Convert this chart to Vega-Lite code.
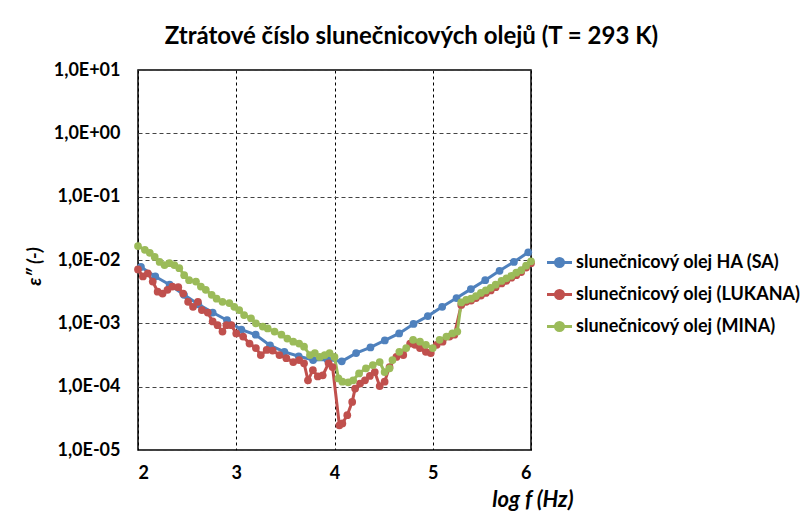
{
  "$schema": "https://vega.github.io/schema/vega-lite/v6.json",
  "width": 393,
  "height": 380,
  "autosize": {"type": "none"},
  "padding": {"left": 138, "top": 70, "right": 271, "bottom": 71},
  "background": "white",
  "title": {"text": "Ztrátové číslo slunečnicových olejů (T = 293 K)", "font": "Lato", "fontSize": 24, "fontWeight": "bold", "color": "black", "anchor": "middle", "dx": 77, "offset": 12},
  "config": {"view": {"stroke": "black", "strokeWidth": 1.5}},
  "datasets": {
    "d": [
      {"olej": "slunečnicový olej HA (SA)", "logf": 2.03, "eps": 0.00776},
      {"olej": "slunečnicový olej HA (SA)", "logf": 2.176, "eps": 0.0055},
      {"olej": "slunečnicový olej HA (SA)", "logf": 2.322, "eps": 0.00407},
      {"olej": "slunečnicový olej HA (SA)", "logf": 2.468, "eps": 0.00282},
      {"olej": "slunečnicový olej HA (SA)", "logf": 2.614, "eps": 0.002},
      {"olej": "slunečnicový olej HA (SA)", "logf": 2.76, "eps": 0.00148},
      {"olej": "slunečnicový olej HA (SA)", "logf": 2.906, "eps": 0.00112},
      {"olej": "slunečnicový olej HA (SA)", "logf": 3.052, "eps": 0.000794},
      {"olej": "slunečnicový olej HA (SA)", "logf": 3.198, "eps": 0.000661},
      {"olej": "slunečnicový olej HA (SA)", "logf": 3.344, "eps": 0.000447},
      {"olej": "slunečnicový olej HA (SA)", "logf": 3.49, "eps": 0.000355},
      {"olej": "slunečnicový olej HA (SA)", "logf": 3.636, "eps": 0.000302},
      {"olej": "slunečnicový olej HA (SA)", "logf": 3.782, "eps": 0.000263},
      {"olej": "slunečnicový olej HA (SA)", "logf": 3.928, "eps": 0.000269},
      {"olej": "slunečnicový olej HA (SA)", "logf": 4.074, "eps": 0.000251},
      {"olej": "slunečnicový olej HA (SA)", "logf": 4.22, "eps": 0.000339},
      {"olej": "slunečnicový olej HA (SA)", "logf": 4.366, "eps": 0.000417},
      {"olej": "slunečnicový olej HA (SA)", "logf": 4.512, "eps": 0.000537},
      {"olej": "slunečnicový olej HA (SA)", "logf": 4.658, "eps": 0.000692},
      {"olej": "slunečnicový olej HA (SA)", "logf": 4.804, "eps": 0.000977},
      {"olej": "slunečnicový olej HA (SA)", "logf": 4.95, "eps": 0.0013},
      {"olej": "slunečnicový olej HA (SA)", "logf": 5.096, "eps": 0.00182},
      {"olej": "slunečnicový olej HA (SA)", "logf": 5.242, "eps": 0.00251},
      {"olej": "slunečnicový olej HA (SA)", "logf": 5.388, "eps": 0.00347},
      {"olej": "slunečnicový olej HA (SA)", "logf": 5.534, "eps": 0.00479},
      {"olej": "slunečnicový olej HA (SA)", "logf": 5.68, "eps": 0.00676},
      {"olej": "slunečnicový olej HA (SA)", "logf": 5.826, "eps": 0.00933},
      {"olej": "slunečnicový olej HA (SA)", "logf": 5.972, "eps": 0.0132},
      {"olej": "slunečnicový olej (LUKANA)", "logf": 2.0, "eps": 0.00708},
      {"olej": "slunečnicový olej (LUKANA)", "logf": 2.05, "eps": 0.0055},
      {"olej": "slunečnicový olej (LUKANA)", "logf": 2.1, "eps": 0.00617},
      {"olej": "slunečnicový olej (LUKANA)", "logf": 2.15, "eps": 0.00457},
      {"olej": "slunečnicový olej (LUKANA)", "logf": 2.2, "eps": 0.00316},
      {"olej": "slunečnicový olej (LUKANA)", "logf": 2.25, "eps": 0.00295},
      {"olej": "slunečnicový olej (LUKANA)", "logf": 2.3, "eps": 0.00339},
      {"olej": "slunečnicový olej (LUKANA)", "logf": 2.35, "eps": 0.0038},
      {"olej": "slunečnicový olej (LUKANA)", "logf": 2.41, "eps": 0.00372},
      {"olej": "slunečnicový olej (LUKANA)", "logf": 2.46, "eps": 0.00295},
      {"olej": "slunečnicový olej (LUKANA)", "logf": 2.51, "eps": 0.00219},
      {"olej": "slunečnicový olej (LUKANA)", "logf": 2.56, "eps": 0.00182},
      {"olej": "slunečnicový olej (LUKANA)", "logf": 2.61, "eps": 0.00219},
      {"olej": "slunečnicový olej (LUKANA)", "logf": 2.65, "eps": 0.00162},
      {"olej": "slunečnicový olej (LUKANA)", "logf": 2.71, "eps": 0.00148},
      {"olej": "slunečnicový olej (LUKANA)", "logf": 2.76, "eps": 0.00107},
      {"olej": "slunečnicový olej (LUKANA)", "logf": 2.81, "eps": 0.000933},
      {"olej": "slunečnicový olej (LUKANA)", "logf": 2.86, "eps": 0.000741},
      {"olej": "slunečnicový olej (LUKANA)", "logf": 2.9, "eps": 0.000933},
      {"olej": "slunečnicový olej (LUKANA)", "logf": 2.95, "eps": 0.000933},
      {"olej": "slunečnicový olej (LUKANA)", "logf": 3.0, "eps": 0.000692},
      {"olej": "slunečnicový olej (LUKANA)", "logf": 3.07, "eps": 0.000617},
      {"olej": "slunečnicový olej (LUKANA)", "logf": 3.135, "eps": 0.000479},
      {"olej": "slunečnicový olej (LUKANA)", "logf": 3.2, "eps": 0.000407},
      {"olej": "slunečnicový olej (LUKANA)", "logf": 3.25, "eps": 0.000316},
      {"olej": "slunečnicový olej (LUKANA)", "logf": 3.31, "eps": 0.00038},
      {"olej": "slunečnicový olej (LUKANA)", "logf": 3.37, "eps": 0.000372},
      {"olej": "slunečnicový olej (LUKANA)", "logf": 3.44, "eps": 0.000316},
      {"olej": "slunečnicový olej (LUKANA)", "logf": 3.51, "eps": 0.000282},
      {"olej": "slunečnicový olej (LUKANA)", "logf": 3.58, "eps": 0.000245},
      {"olej": "slunečnicový olej (LUKANA)", "logf": 3.64, "eps": 0.000263},
      {"olej": "slunečnicový olej (LUKANA)", "logf": 3.69, "eps": 0.000234},
      {"olej": "slunečnicový olej (LUKANA)", "logf": 3.73, "eps": 0.000126},
      {"olej": "slunečnicový olej (LUKANA)", "logf": 3.78, "eps": 0.000182},
      {"olej": "slunečnicový olej (LUKANA)", "logf": 3.83, "eps": 0.000145},
      {"olej": "slunečnicový olej (LUKANA)", "logf": 3.88, "eps": 0.000151},
      {"olej": "slunečnicový olej (LUKANA)", "logf": 3.94, "eps": 0.000234},
      {"olej": "slunečnicový olej (LUKANA)", "logf": 3.98, "eps": 0.000204},
      {"olej": "slunečnicový olej (LUKANA)", "logf": 4.05, "eps": 0.0000245},
      {"olej": "slunečnicový olej (LUKANA)", "logf": 4.08, "eps": 0.0000263},
      {"olej": "slunečnicový olej (LUKANA)", "logf": 4.13, "eps": 0.0000355},
      {"olej": "slunečnicový olej (LUKANA)", "logf": 4.18, "eps": 0.0000575},
      {"olej": "slunečnicový olej (LUKANA)", "logf": 4.21, "eps": 0.0000933},
      {"olej": "slunečnicový olej (LUKANA)", "logf": 4.26, "eps": 0.000112},
      {"olej": "slunečnicový olej (LUKANA)", "logf": 4.31, "eps": 0.000126},
      {"olej": "slunečnicový olej (LUKANA)", "logf": 4.36, "eps": 0.000148},
      {"olej": "slunečnicový olej (LUKANA)", "logf": 4.41, "eps": 0.00017},
      {"olej": "slunečnicový olej (LUKANA)", "logf": 4.46, "eps": 0.000102},
      {"olej": "slunečnicový olej (LUKANA)", "logf": 4.51, "eps": 0.00012},
      {"olej": "slunečnicový olej (LUKANA)", "logf": 4.56, "eps": 0.000204},
      {"olej": "slunečnicový olej (LUKANA)", "logf": 4.63, "eps": 0.000295},
      {"olej": "slunečnicový olej (LUKANA)", "logf": 4.7, "eps": 0.000316},
      {"olej": "slunečnicový olej (LUKANA)", "logf": 4.77, "eps": 0.000479},
      {"olej": "slunečnicový olej (LUKANA)", "logf": 4.82, "eps": 0.000457},
      {"olej": "slunečnicový olej (LUKANA)", "logf": 4.87, "eps": 0.000407},
      {"olej": "slunečnicový olej (LUKANA)", "logf": 4.93, "eps": 0.000355},
      {"olej": "slunečnicový olej (LUKANA)", "logf": 4.98, "eps": 0.000339},
      {"olej": "slunečnicový olej (LUKANA)", "logf": 5.04, "eps": 0.000457},
      {"olej": "slunečnicový olej (LUKANA)", "logf": 5.1, "eps": 0.000513},
      {"olej": "slunečnicový olej (LUKANA)", "logf": 5.17, "eps": 0.000617},
      {"olej": "slunečnicový olej (LUKANA)", "logf": 5.22, "eps": 0.000661},
      {"olej": "slunečnicový olej (LUKANA)", "logf": 5.29, "eps": 0.00195},
      {"olej": "slunečnicový olej (LUKANA)", "logf": 5.34, "eps": 0.00219},
      {"olej": "slunečnicový olej (LUKANA)", "logf": 5.39, "eps": 0.00229},
      {"olej": "slunečnicový olej (LUKANA)", "logf": 5.44, "eps": 0.00251},
      {"olej": "slunečnicový olej (LUKANA)", "logf": 5.49, "eps": 0.00275},
      {"olej": "slunečnicový olej (LUKANA)", "logf": 5.54, "eps": 0.00302},
      {"olej": "slunečnicový olej (LUKANA)", "logf": 5.59, "eps": 0.00331},
      {"olej": "slunečnicový olej (LUKANA)", "logf": 5.64, "eps": 0.00372},
      {"olej": "slunečnicový olej (LUKANA)", "logf": 5.7, "eps": 0.00427},
      {"olej": "slunečnicový olej (LUKANA)", "logf": 5.75, "eps": 0.00468},
      {"olej": "slunečnicový olej (LUKANA)", "logf": 5.8, "eps": 0.00525},
      {"olej": "slunečnicový olej (LUKANA)", "logf": 5.85, "eps": 0.00575},
      {"olej": "slunečnicový olej (LUKANA)", "logf": 5.9, "eps": 0.00646},
      {"olej": "slunečnicový olej (LUKANA)", "logf": 5.95, "eps": 0.00759},
      {"olej": "slunečnicový olej (LUKANA)", "logf": 6.0, "eps": 0.00891},
      {"olej": "slunečnicový olej (MINA)", "logf": 2.0, "eps": 0.0166},
      {"olej": "slunečnicový olej (MINA)", "logf": 2.07, "eps": 0.0145},
      {"olej": "slunečnicový olej (MINA)", "logf": 2.12, "eps": 0.013},
      {"olej": "slunečnicový olej (MINA)", "logf": 2.17, "eps": 0.0112},
      {"olej": "slunečnicový olej (MINA)", "logf": 2.22, "eps": 0.00933},
      {"olej": "slunečnicový olej (MINA)", "logf": 2.27, "eps": 0.00832},
      {"olej": "slunečnicový olej (MINA)", "logf": 2.32, "eps": 0.00891},
      {"olej": "slunečnicový olej (MINA)", "logf": 2.37, "eps": 0.00832},
      {"olej": "slunečnicový olej (MINA)", "logf": 2.42, "eps": 0.00741},
      {"olej": "slunečnicový olej (MINA)", "logf": 2.47, "eps": 0.00575},
      {"olej": "slunečnicový olej (MINA)", "logf": 2.52, "eps": 0.00479},
      {"olej": "slunečnicový olej (MINA)", "logf": 2.59, "eps": 0.00457},
      {"olej": "slunečnicový olej (MINA)", "logf": 2.64, "eps": 0.0038},
      {"olej": "slunečnicový olej (MINA)", "logf": 2.69, "eps": 0.00339},
      {"olej": "slunečnicový olej (MINA)", "logf": 2.75, "eps": 0.00282},
      {"olej": "slunečnicový olej (MINA)", "logf": 2.8, "eps": 0.00245},
      {"olej": "slunečnicový olej (MINA)", "logf": 2.86, "eps": 0.00219},
      {"olej": "slunečnicový olej (MINA)", "logf": 2.93, "eps": 0.00209},
      {"olej": "slunečnicový olej (MINA)", "logf": 2.98, "eps": 0.00182},
      {"olej": "slunečnicový olej (MINA)", "logf": 3.03, "eps": 0.00162},
      {"olej": "slunečnicový olej (MINA)", "logf": 3.08, "eps": 0.00135},
      {"olej": "slunečnicový olej (MINA)", "logf": 3.15, "eps": 0.0012},
      {"olej": "slunečnicový olej (MINA)", "logf": 3.2, "eps": 0.001},
      {"olej": "slunečnicový olej (MINA)", "logf": 3.27, "eps": 0.000891},
      {"olej": "slunečnicový olej (MINA)", "logf": 3.32, "eps": 0.000832},
      {"olej": "slunečnicový olej (MINA)", "logf": 3.39, "eps": 0.000741},
      {"olej": "slunečnicový olej (MINA)", "logf": 3.46, "eps": 0.000661},
      {"olej": "slunečnicový olej (MINA)", "logf": 3.52, "eps": 0.000575},
      {"olej": "slunečnicový olej (MINA)", "logf": 3.58, "eps": 0.000513},
      {"olej": "slunečnicový olej (MINA)", "logf": 3.64, "eps": 0.000479},
      {"olej": "slunečnicový olej (MINA)", "logf": 3.69, "eps": 0.000427},
      {"olej": "slunečnicový olej (MINA)", "logf": 3.75, "eps": 0.000316},
      {"olej": "slunečnicový olej (MINA)", "logf": 3.8, "eps": 0.000339},
      {"olej": "slunečnicový olej (MINA)", "logf": 3.85, "eps": 0.000295},
      {"olej": "slunečnicový olej (MINA)", "logf": 3.9, "eps": 0.000316},
      {"olej": "slunečnicový olej (MINA)", "logf": 3.95, "eps": 0.000339},
      {"olej": "slunečnicový olej (MINA)", "logf": 4.0, "eps": 0.000295},
      {"olej": "slunečnicový olej (MINA)", "logf": 4.04, "eps": 0.000135},
      {"olej": "slunečnicový olej (MINA)", "logf": 4.08, "eps": 0.00012},
      {"olej": "slunečnicový olej (MINA)", "logf": 4.14, "eps": 0.000117},
      {"olej": "slunečnicový olej (MINA)", "logf": 4.19, "eps": 0.000126},
      {"olej": "slunečnicový olej (MINA)", "logf": 4.25, "eps": 0.000162},
      {"olej": "slunečnicový olej (MINA)", "logf": 4.32, "eps": 0.000195},
      {"olej": "slunečnicový olej (MINA)", "logf": 4.39, "eps": 0.000219},
      {"olej": "slunečnicový olej (MINA)", "logf": 4.46, "eps": 0.000245},
      {"olej": "slunečnicový olej (MINA)", "logf": 4.51, "eps": 0.00017},
      {"olej": "slunečnicový olej (MINA)", "logf": 4.56, "eps": 0.000195},
      {"olej": "slunečnicový olej (MINA)", "logf": 4.59, "eps": 0.000263},
      {"olej": "slunečnicový olej (MINA)", "logf": 4.66, "eps": 0.000355},
      {"olej": "slunečnicový olej (MINA)", "logf": 4.73, "eps": 0.000407},
      {"olej": "slunečnicový olej (MINA)", "logf": 4.8, "eps": 0.00055},
      {"olej": "slunečnicový olej (MINA)", "logf": 4.87, "eps": 0.000513},
      {"olej": "slunečnicový olej (MINA)", "logf": 4.93, "eps": 0.000457},
      {"olej": "slunečnicový olej (MINA)", "logf": 5.0, "eps": 0.000407},
      {"olej": "slunečnicový olej (MINA)", "logf": 5.07, "eps": 0.00055},
      {"olej": "slunečnicový olej (MINA)", "logf": 5.14, "eps": 0.000617},
      {"olej": "slunečnicový olej (MINA)", "logf": 5.2, "eps": 0.000692},
      {"olej": "slunečnicový olej (MINA)", "logf": 5.25, "eps": 0.000741},
      {"olej": "slunečnicový olej (MINA)", "logf": 5.29, "eps": 0.00214},
      {"olej": "slunečnicový olej (MINA)", "logf": 5.34, "eps": 0.00234},
      {"olej": "slunečnicový olej (MINA)", "logf": 5.39, "eps": 0.00245},
      {"olej": "slunečnicový olej (MINA)", "logf": 5.44, "eps": 0.00269},
      {"olej": "slunečnicový olej (MINA)", "logf": 5.49, "eps": 0.00302},
      {"olej": "slunečnicový olej (MINA)", "logf": 5.54, "eps": 0.00331},
      {"olej": "slunečnicový olej (MINA)", "logf": 5.59, "eps": 0.00363},
      {"olej": "slunečnicový olej (MINA)", "logf": 5.64, "eps": 0.00407},
      {"olej": "slunečnicový olej (MINA)", "logf": 5.7, "eps": 0.00468},
      {"olej": "slunečnicový olej (MINA)", "logf": 5.75, "eps": 0.00513},
      {"olej": "slunečnicový olej (MINA)", "logf": 5.8, "eps": 0.00562},
      {"olej": "slunečnicový olej (MINA)", "logf": 5.85, "eps": 0.00631},
      {"olej": "slunečnicový olej (MINA)", "logf": 5.9, "eps": 0.00692},
      {"olej": "slunečnicový olej (MINA)", "logf": 5.95, "eps": 0.00813},
      {"olej": "slunečnicový olej (MINA)", "logf": 6.0, "eps": 0.00955}
    ]
  },
  "data": {"name": "d"},
  "encoding": {
    "x": {
      "field": "logf", "type": "quantitative",
      "scale": {"domain": [2, 6], "nice": false, "zero": false},
      "axis": {
        "values": [2, 3, 4, 5, 6], "format": "d",
        "grid": true, "gridColor": "black", "gridDash": [3, 3], "gridWidth": 1,
        "domain": false, "ticks": false,
        "labelFont": "Lato", "labelFontSize": 18, "labelFontWeight": "bold", "labelColor": "black", "labelPadding": 14,
        "title": "log f (Hz)", "titleFont": "Lato", "titleFontSize": 22, "titleFontWeight": "bold", "titleFontStyle": "italic", "titleColor": "black",
        "titleX": 435, "titleY": 49, "titleAlign": "right", "titleBaseline": "middle", "titleAnchor": null
      }
    },
    "y": {
      "field": "eps", "type": "quantitative",
      "scale": {"type": "log", "domain": [0.00001, 10], "nice": false},
      "axis": {
        "values": [0.00001, 0.0001, 0.001, 0.01, 0.1, 1, 10],
        "labelExpr": "'1,0E' + (datum.value >= 1 ? '+' : '-') + format(abs(round(log(datum.value)/LN10)), '02d')",
        "grid": true, "gridColor": "#444", "gridDash": [4, 3], "gridWidth": 1,
        "domain": false, "ticks": false,
        "labelFont": "Lato", "labelFontSize": 18, "labelFontWeight": "bold", "labelColor": "black", "labelPadding": 18,
        "title": "ε″ (-)", "titleFont": "Lato", "titleFontSize": 19, "titleFontWeight": "bold", "titleFontStyle": "italic", "titleColor": "black",
        "titleX": -104, "titleY": 196, "titleAlign": "center", "titleBaseline": "middle", "titleAngle": -90
      }
    },
    "color": {
      "field": "olej", "type": "nominal",
      "scale": {
        "domain": ["slunečnicový olej HA (SA)", "slunečnicový olej (LUKANA)", "slunečnicový olej (MINA)"],
        "range": ["#4F81BD", "#C0504D", "#9BBB59"]
      },
      "legend": {
        "orient": "none", "legendX": 410, "legendY": 181, "title": null, "padding": 0,
        "labelFont": "Lato", "labelFontSize": 18, "labelFontWeight": "bold", "labelColor": "black", "labelLimit": 400,
        "symbolType": "M -1.25 0 L 1.25 0 M 0.4 0 A 0.4 0.4 0 1 1 -0.4 0 A 0.4 0.4 0 1 1 0.4 0",
        "symbolSize": 400, "symbolStrokeWidth": 3, "rowPadding": 10, "labelOffset": 5
      }
    }
  },
  "layer": [
    {"mark": {"type": "line", "strokeWidth": 3}},
    {"mark": {"type": "point", "filled": true, "size": 60, "opacity": 1}}
  ]
}
